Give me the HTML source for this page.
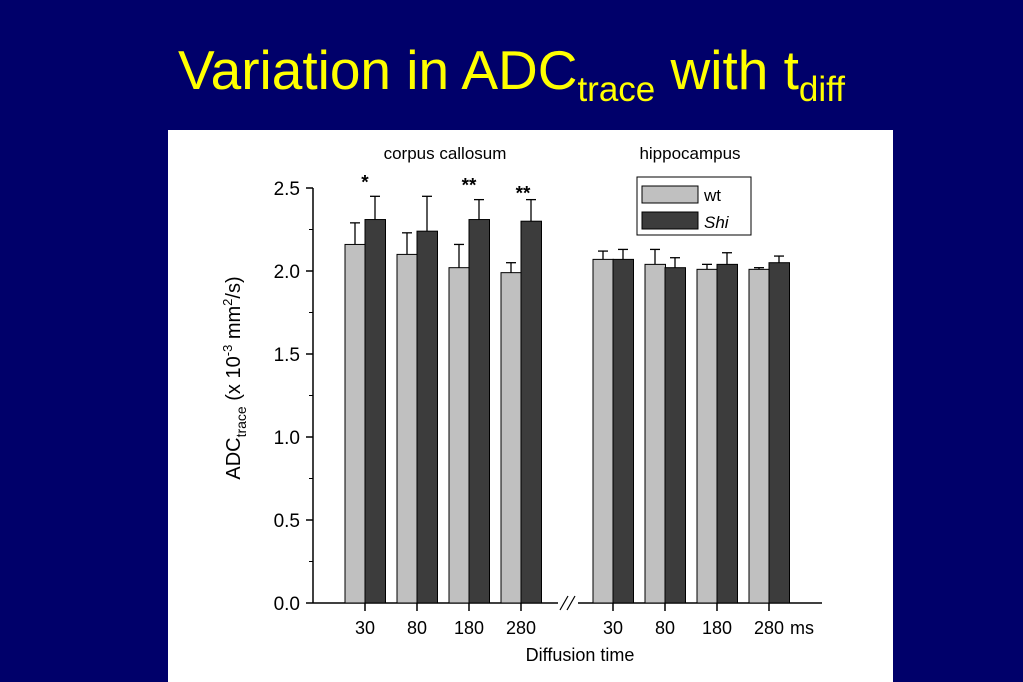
<!DOCTYPE html>
<html><head><meta charset="utf-8"><style>
body{margin:0;width:1023px;height:682px;background:#00006a;overflow:hidden;font-family:"Liberation Sans",sans-serif}
#title{position:absolute;left:0;width:1023px;top:38px;text-align:center;color:#ffff00;font-size:55px;letter-spacing:0px}
#title sub{font-size:35px;vertical-align:-12px}
#panel{position:absolute;left:168px;top:130px;width:725px;height:552px;background:#fff}
svg{position:absolute;left:0;top:0}
</style></head><body>
<div id="title">Variation in ADC<sub>trace</sub> with t<sub>diff</sub></div>
<div id="panel"></div>
<svg id="chart" width="1023" height="682" font-family="Liberation Sans, sans-serif"></svg>
<script>
const groups=['corpus callosum','hippocampus'];
const times=['30','80','180','280'];
const wtVals=[[2.16,2.10,2.02,1.99],[2.07,2.04,2.01,2.01]];
const wtErr=[[0.13,0.13,0.14,0.06],[0.05,0.09,0.03,0.01]];
const shiVals=[[2.31,2.24,2.31,2.30],[2.07,2.02,2.04,2.05]];
const shiErr=[[0.14,0.21,0.12,0.13],[0.06,0.06,0.07,0.04]];
const stars=['*','','**','**'];
const yTicks=['0.0','0.5','1.0','1.5','2.0','2.5'];
const svg=document.getElementById('chart');const NS='http://www.w3.org/2000/svg';
function y(v){return 603-v*166;}
function x(g,i){return (g===0?365:613)+i*52;}
function el(t,a,txt){const e=document.createElementNS(NS,t);for(const k in a)e.setAttribute(k,a[k]);if(txt!==undefined)e.textContent=txt;svg.appendChild(e);return e;}
let ax=el('path',{d:'M313 603H558M578 603H822M313 603V'+y(2.5),stroke:'#000','stroke-width':1.5,fill:'none'});

let br=el('path',{d:'M560 610L568 596M567 610L575 596',stroke:'#000','stroke-width':1.2,fill:'none'});

yTicks.forEach((t,i)=>{const v=parseFloat(t);
 el('line',{x1:306,x2:313,y1:y(v),y2:y(v),stroke:'#000','stroke-width':1.5});
 if(i<5)el('line',{x1:309,x2:313,y1:y(v+0.25),y2:y(v+0.25),stroke:'#000','stroke-width':1});
 const tx=el('text',{x:300,y:y(v)+7,'text-anchor':'end','font-size':19},t);
 });
for(let g=0;g<2;g++)for(let i=0;i<4;i++){
 const cx=x(g,i);
 el('line',{x1:cx,x2:cx,y1:603,y2:611,stroke:'#000','stroke-width':1.5});
 const lt=el('text',{x:cx,y:634,'text-anchor':'middle','font-size':18},times[i]);
 
 [[wtVals,wtErr,cx-20,'#c0c0c0','wt'],[shiVals,shiErr,cx,'#3c3c3c','shi']].forEach(([V,E,bx,c,n])=>{
  const v=V[g][i],e=E[g][i],mx=bx+10;
  el('line',{x1:mx,x2:mx,y1:y(v),y2:y(v+e),stroke:'#000','stroke-width':1.3});
  el('line',{x1:mx-5,x2:mx+5,y1:y(v+e),y2:y(v+e),stroke:'#000','stroke-width':1.3});
  const r=el('rect',{x:bx,y:y(v),width:20.5,height:603-y(v),fill:c,stroke:'#000','stroke-width':1});
  
 });
 if(g===0&&stars[i]){const s=el('text',{x:cx+(i===3?2:0),y:y(shiVals[g][i]+shiErr[g][i])-(i===3?0:8),'text-anchor':'middle','font-size':19,'font-weight':'bold'},stars[i]);
  }
}
let t=el('text',{x:790,y:634,'font-size':18},'ms');
t=el('text',{x:580,y:661,'text-anchor':'middle','font-size':18},'Diffusion time');
t=el('text',{x:445,y:159,'text-anchor':'middle','font-size':17},groups[0]);
t=el('text',{x:690,y:159,'text-anchor':'middle','font-size':17},groups[1]);
const yt=el('text',{transform:'translate(240,378) rotate(-90)','text-anchor':'middle','font-size':20});

yt.innerHTML='ADC<tspan font-size="14" dy="6">trace</tspan><tspan dy="-6"> (x 10</tspan><tspan font-size="13" dy="-8">-3</tspan><tspan dy="8"> mm</tspan><tspan font-size="13" dy="-8">2</tspan><tspan dy="8">/s)</tspan>';
const lg=el('rect',{x:637,y:177,width:114,height:58,fill:'#fff',stroke:'#000','stroke-width':1});

el('rect',{x:642,y:186,width:56,height:17,fill:'#c0c0c0',stroke:'#000'});
el('rect',{x:642,y:212,width:56,height:17,fill:'#3c3c3c',stroke:'#000'});
t=el('text',{x:704,y:201,'font-size':17},'wt');
t=el('text',{x:704,y:228,'font-size':17,'font-style':'italic'},'Shi');
</script>
</body></html>
